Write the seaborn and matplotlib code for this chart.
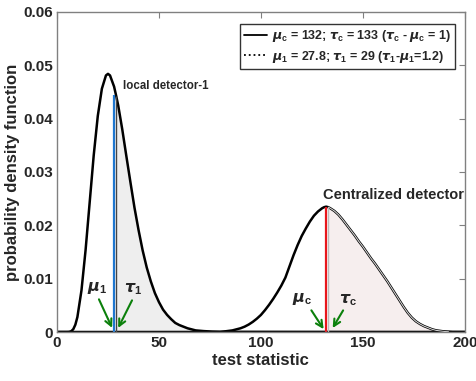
import numpy as np
import pandas as pd
import seaborn as sns
import matplotlib
matplotlib.use("Agg")
import matplotlib.pyplot as plt
from matplotlib.lines import Line2D


# values
x_local = [0, 4, 5, 6, 7, 8, 9, 10, 12, 14, 16, 18, 20, 22, 24, 25, 26, 28, 29, 30, 32,
           34, 36, 38, 40, 42, 44, 46, 48, 50, 52, 54, 56, 58, 60, 64, 68, 72, 76, 80, 200]
pdf_local = [0, 0, 0, 0.00002, 0.00015, 0.00054, 0.00137, 0.0028, 0.0078, 0.0153, 0.0242,
             0.0331, 0.0405, 0.0456, 0.0481, 0.0484, 0.0481, 0.0460, 0.0443, 0.0425,
             0.0380, 0.0330, 0.0281, 0.0233, 0.0191, 0.0153, 0.0121, 0.0095, 0.0073,
             0.0056, 0.0042, 0.0032, 0.0024, 0.0017, 0.0013, 0.0007, 0.0003, 0.00017,
             0.00008, 0.00004, 0]

x_central = [0, 80, 82, 84, 86, 88, 90, 92, 94, 96, 98, 100, 102, 104, 106, 108, 110, 112,
             114, 116, 118, 120, 122, 124, 126, 128, 130, 131, 132, 133, 134, 136, 138,
             140, 142, 144, 146, 148, 150, 152, 154, 156, 158, 160, 162, 164, 166, 168,
             170, 172, 174, 176, 178, 180, 182, 184, 186, 188, 190, 192, 194, 200]
pdf_central = [0, 0, 0.0001, 0.0002, 0.0003, 0.0005, 0.0007, 0.0010, 0.0014, 0.0019,
               0.0025, 0.0032, 0.0041, 0.0051, 0.0062, 0.0074, 0.0087, 0.0102, 0.0123,
               0.0144, 0.0163, 0.0180, 0.0194, 0.0207, 0.0218, 0.0226, 0.0232, 0.0234,
               0.0235, 0.0234, 0.0232, 0.0227, 0.0220, 0.0211, 0.0201, 0.0191, 0.0181,
               0.0170, 0.0160, 0.0149, 0.0138, 0.0128, 0.0117, 0.0106, 0.0095, 0.0083,
               0.0071, 0.0059, 0.0047, 0.0036, 0.0027, 0.0020, 0.0015, 0.0011, 0.0008,
               0.0005, 0.0003, 0.0002, 0.0001, 0.00005, 0, 0]

mu_1, tau_1 = 27.8, 29
mu_c, tau_c = 132, 133
mu_1_height = 0.0445

df_local = pd.DataFrame({"x": x_local, "pdf": pdf_local})
df_central = pd.DataFrame({"x": x_central, "pdf": pdf_central})

sns.set_theme(style="white")
plt.rcParams["font.family"] = ["Liberation Sans", "DejaVu Sans"]
plt.rcParams["font.weight"] = "bold"
plt.rcParams["mathtext.fontset"] = "custom"
plt.rcParams["mathtext.rm"] = "Liberation Sans:bold"
plt.rcParams["mathtext.bf"] = "Liberation Sans:bold"
plt.rcParams["mathtext.it"] = "DejaVu Sans:italic:bold"

fig = plt.figure(figsize=(4.77, 3.81), dpi=100)
ax = fig.add_axes([0.1195, 0.1286, 0.855, 0.84])

# shaded regions right of the thresholds
loc_tail = df_local[df_local.x >= tau_1]
cen_tail = df_central[df_central.x >= tau_c]
ax.fill_between(loc_tail.x, 0, loc_tail.pdf, color="#eeeeee", lw=0)
ax.fill_between(cen_tail.x, 0, cen_tail.pdf, color="#f6eeee", lw=0)

# curves
sns.lineplot(data=df_local, x="x", y="pdf", color="black", lw=1.8, ax=ax)
sns.lineplot(data=df_central, x="x", y="pdf", color="black", lw=1.8, ax=ax)
tail_line = cen_tail[cen_tail.x < 194]
ax.plot(tail_line.x, tail_line.pdf, color="#e0e0e0", lw=0.7)

# threshold / mean lines
ax.vlines(tau_1, 0, np.interp(tau_1, x_local, pdf_local), color="#444444", lw=1.0)
ax.vlines(mu_1, 0, mu_1_height, color="#1f77d0", lw=1.6)
ax.vlines(tau_c, 0, np.interp(tau_c, x_central, pdf_central), color="#bbbbbb", lw=1.0)
ax.vlines(mu_c, 0, np.interp(mu_c, x_central, pdf_central), color="#e8161b", lw=1.6)

# text annotations
ax.text(32.4, 0.0461, "local detector-1", fontsize=8.3, fontweight="bold", va="center")
ax.text(130.4, 0.0257, "Centralized detector", fontsize=10.5, fontweight="bold", va="center")

arrow = dict(arrowstyle="->", color="#0b800b", lw=1.5, mutation_scale=12)
ax.annotate("", xy=(27.6, 0.0003), xytext=(20, 0.0066), arrowprops=arrow)
ax.annotate("", xy=(29.4, 0.0003), xytext=(37.4, 0.0064), arrowprops=arrow)
ax.annotate("", xy=(131.5, 0.0001), xytext=(124, 0.0045), arrowprops=arrow)
ax.annotate("", xy=(134.5, 0.0003), xytext=(141, 0.0045), arrowprops=arrow)
ax.text(19.5, 0.0082, r"$\mu_\mathrm{1}$", fontsize=11.5, ha="center", va="center")
ax.text(37.5, 0.0080, r"$\tau_\mathrm{1}$", fontsize=11.5, ha="center", va="center")
ax.text(120, 0.0062, r"$\mu_\mathrm{c}$", fontsize=11.5, ha="center", va="center")
ax.text(142.5, 0.0060, r"$\tau_\mathrm{c}$", fontsize=11.5, ha="center", va="center")

# legend
handles = [Line2D([], [], color="black", lw=1.3),
           Line2D([], [], color="black", lw=1.3, ls=":")]
labels = [r"$\mu_\mathrm{c}$ = 132; $\tau_\mathrm{c}$ = 133 ($\tau_\mathrm{c}$ - $\mu_\mathrm{c}$ = 1)",
          r"$\mu_\mathrm{1}$ = 27.8; $\tau_\mathrm{1}$ = 29 ($\tau_\mathrm{1}$-$\mu_\mathrm{1}$=1.2)"]
leg = ax.legend(handles, labels, loc="upper right", fontsize=9, frameon=True,
                fancybox=False, edgecolor="black", handlelength=1.8,
                handletextpad=0.4, borderpad=0.35, labelspacing=0.35,
                borderaxespad=0, bbox_to_anchor=(0.976, 0.9625))
leg.get_frame().set_linewidth(1.0)

ax.set_xlim(0, 200)
ax.set_ylim(0, 0.06)
ax.set_xticks([0, 50, 100, 150, 200])
ax.set_yticks([0, 0.01, 0.02, 0.03, 0.04, 0.05, 0.06])
ax.set_yticklabels(["0", "0.01", "0.02", "0.03", "0.04", "0.05", "0.06"])
ax.tick_params(direction="in", length=4, width=0.8, color="#808080", top=True, right=True,
               labelsize=11, labelcolor="#262626", pad=3)
for lab in ax.get_xticklabels() + ax.get_yticklabels():
    lab.set_fontweight("bold")
for sp in ax.spines.values():
    sp.set_color("#808080")
    sp.set_linewidth(1.0)
ax.set_xlabel("test statistic", fontsize=12, fontweight="bold", labelpad=2)
ax.set_ylabel("probability density function", fontsize=12, fontweight="bold", labelpad=2)

fig.savefig("out.png", dpi=100)
